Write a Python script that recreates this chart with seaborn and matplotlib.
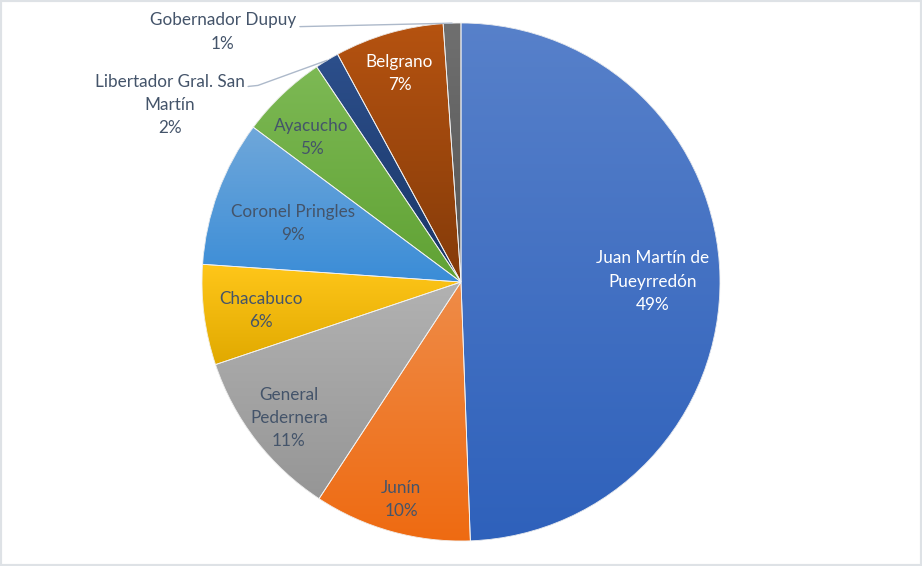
import colorsys
import numpy as np
import matplotlib.pyplot as plt
import matplotlib.colors as mcolors
from matplotlib.patches import Wedge
import seaborn as sns

# datos del gráfico (participación por partido, en %)
partidos = ['Juan Martín de\nPueyrredón', 'Junín', 'General\nPedernera', 'Chacabuco',
            'Coronel Pringles', 'Ayacucho', 'Libertador Gral. San\nMartín', 'Belgrano',
            'Gobernador Dupuy']
valores = [49.4, 9.8, 10.6, 6.25, 9.1, 5.4, 1.5, 6.8, 1.1]
colores = ['#4472C4', '#ED7D31', '#A5A5A5', '#FFC000', '#5B9BD5', '#70AD47',
           '#264478', '#9E480E', '#636363']

sns.set_theme(style="white")
plt.rcParams['font.family'] = ['Lato', 'DejaVu Sans']

total = sum(valores)
etiquetas = [f"{p}\n{round(v / total * 100)}%" for p, v in zip(partidos, valores)]

fig = plt.figure(figsize=(9.22, 5.66), dpi=100)
ax = fig.add_axes([0, 0, 1, 1])

wedges, _ = ax.pie(valores, startangle=90, counterclock=False, radius=1,
                   colors=colores, wedgeprops=dict(linewidth=0))


def tono(c, dl, ds):
    h, l, s = colorsys.rgb_to_hls(*mcolors.to_rgb(c))
    if s > 0:  # los grises quedan grises
        s = s + ds * (1 - s)
    return np.array(colorsys.hls_to_rgb(h, min(max(l + dl, 0), 1), s))


# relleno degradado (más claro arriba) como en Excel
for w, c in zip(wedges, colores):
    ext = w.get_path().get_extents()
    arriba = tono(c, 0.05, 0.0)
    abajo = tono(c, -0.06, 0.17)
    t = np.linspace(0, 1, 256)[:, None]
    grad = ((1 - t) * arriba + t * abajo)[:, None, :]
    im = ax.imshow(grad, extent=[ext.x0, ext.x1, ext.y0, ext.y1], origin='upper',
                   aspect='auto', interpolation='bilinear', zorder=2)
    im.set_clip_path(w)
    ax.add_patch(Wedge(w.center, w.r, w.theta1, w.theta2, facecolor='none',
                       edgecolor='#F2F2F2', linewidth=0.6, zorder=3))

# etiquetas dentro de las porciones
radio_etq = [0.74, 0.86, 0.84, 0.78, 0.69, 0.81, None, 0.85, None]
giro = [0, 0, 0, 0, 0, 1.8, 0, 0, 0]
blancas = [0, 7]
for i, (w, etq) in enumerate(zip(wedges, etiquetas)):
    if radio_etq[i] is None:
        continue
    ang = np.deg2rad((w.theta1 + w.theta2) / 2 + giro[i])
    r = radio_etq[i]
    ax.text(r * np.cos(ang), r * np.sin(ang) - 0.012, etq, ha='center', va='center',
            fontsize=12.3, linespacing=1.55, zorder=5,
            color='white' if i in blancas else '#44546A')

# etiquetas externas con líneas guía
guia = '#ADB9CA'
for i, tx, ty, codo in [(8, -0.637, 0.965, [(-0.622, 0.986)]),
                        (6, -0.834, 0.683, [(-0.822, 0.755), (-0.784, 0.759)])]:
    w = wedges[i]
    ang = np.deg2rad((w.theta1 + w.theta2) / 2)
    xs = [p[0] for p in codo] + [np.cos(ang)]
    ys = [p[1] for p in codo] + [np.sin(ang)]
    ax.plot(xs, ys, color=guia, lw=1.0, zorder=4)
    ax.text(tx, ty, etiquetas[i], ha='right', va='center', multialignment='center',
            fontsize=12.3, linespacing=1.55, color='#44546A', zorder=5)

ax.set_xlim(-461 / 259, 461 / 259)
ax.set_ylim(-284 / 259, 282 / 259)
ax.axis('off')

# marco del área del gráfico
fig.patches.append(plt.Rectangle((0, 0), 1, 1, transform=fig.transFigure,
                                 fill=False, edgecolor='#DEE2E6', linewidth=3))

plt.savefig('out.png', dpi=100)
